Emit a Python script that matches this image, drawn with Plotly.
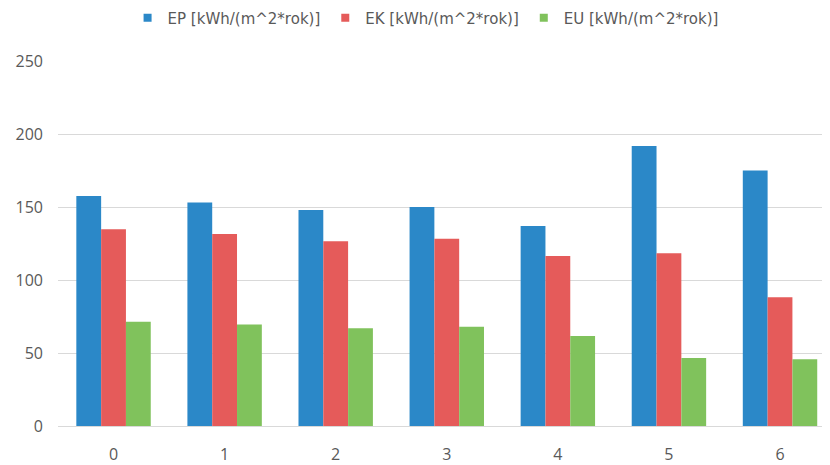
import plotly.graph_objects as go

categories = ["0", "1", "2", "3", "4", "5", "6"]
ep = [157.5, 153, 148, 150, 137, 191.8, 175]
ek = [134.7, 131.5, 126.5, 128.3, 116.5, 118.3, 88.2]
eu = [71.4, 69.6, 67, 68, 61.6, 46.6, 45.7]
series_names = ["EP [kWh/(m^2*rok)]", "EK [kWh/(m^2*rok)]", "EU [kWh/(m^2*rok)]"]
colors = ["#2b88c8", "#e55b5a", "#80c25c"]

TICKFONT = "Open Sans"
LEGFONT = "DejaVu Sans"
GRAY = "#595959"

W, H = 822, 457  # page body has an 8px margin

fig = go.Figure()
for name, vals, col in zip(series_names, [ep, ek, eu], colors):
    fig.add_trace(go.Bar(x=categories, y=vals, name=name, marker_color=col,
                         marker_line_width=0, showlegend=False, legendgroup=name))
# legend entries with small square keys
for name, col in zip(series_names, colors):
    fig.add_trace(go.Scatter(x=[None], y=[None], mode="markers", name=name,
                             legendgroup=name,
                             marker=dict(symbol="square", size=8, color=col)))

fig.update_layout(
    width=W, height=H,
    margin=dict(l=50, r=0, t=53, b=39, autoexpand=False),
    paper_bgcolor="white", plot_bgcolor="white",
    barmode="group", bargap=0.33, bargroupgap=0,
    font=dict(family=TICKFONT, size=15, color=GRAY),
    legend=dict(orientation="h", xref="container", x=0.508, xanchor="center",
                yref="container", y=1 - 10 / H, yanchor="middle",
                font=dict(family=LEGFONT, size=15, color=GRAY), itemwidth=30,
                traceorder="normal"),
    showlegend=True,
)
fig.update_xaxes(type="category", range=[-0.5, 6.45], showgrid=False, showline=False,
                 zeroline=False, ticks="", tickfont=dict(size=16, color=GRAY),
                 ticklabelstandoff=17)
fig.update_yaxes(range=[0, 250], dtick=50, showgrid=True, gridcolor="#d9d9d9",
                 gridwidth=1, zeroline=True, zerolinecolor="#d9d9d9", zerolinewidth=1,
                 showline=False, ticks="", tickfont=dict(size=16, color=GRAY),
                 ticklabelstandoff=14)

fig.write_html("out.html")
